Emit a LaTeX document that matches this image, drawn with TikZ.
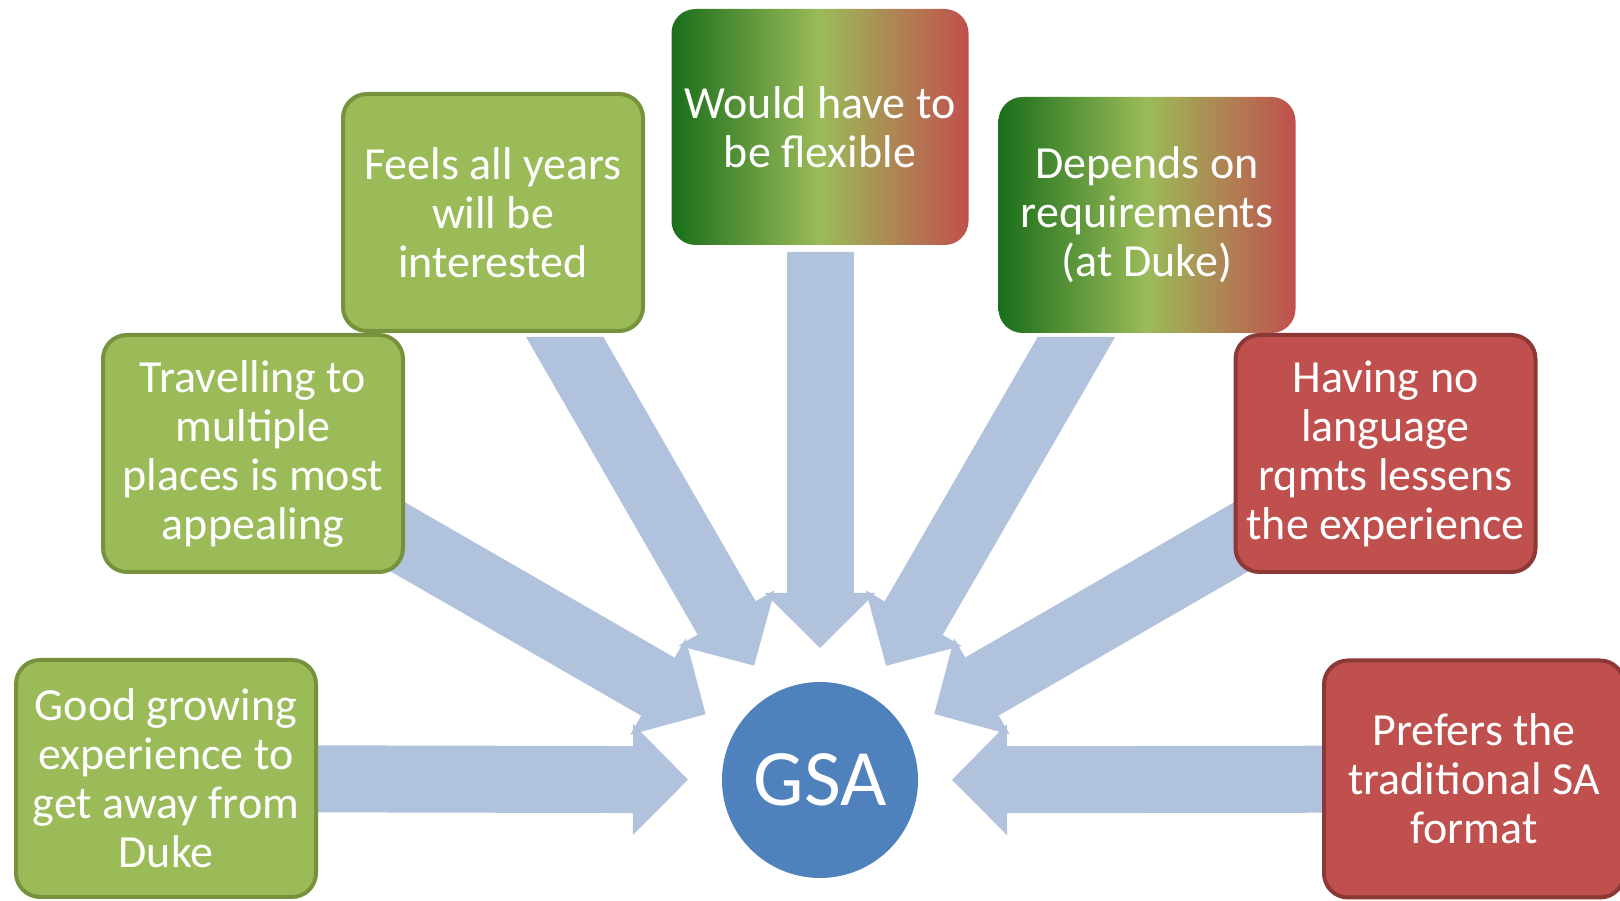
\documentclass[tikz,border=0pt]{standalone}
\usepackage{fontspec}
\usetikzlibrary{arrows.meta, backgrounds}
\newfontfamily\boxfont{Carlito}
\definecolor{profill}{HTML}{9BBB59}
\definecolor{proline}{HTML}{76923C}
\definecolor{confill}{HTML}{C0504D}
\definecolor{conline}{HTML}{8C3836}
\definecolor{mixleft}{HTML}{1A6E1A}
\definecolor{gsafill}{HTML}{4F81BD}
\definecolor{flowblue}{HTML}{B1C2DD}

\begin{document}
\begin{tikzpicture}[x=1pt, y=1pt,
	box/.style={rounded corners=24pt, minimum width=300pt, minimum height=237pt, inner sep=0pt,
		align=center, text=white, font={\boxfont\fontsize{46}{49}\selectfont}, line width=4pt},
	pro/.style={box, fill=profill, draw=proline},
	con/.style={box, fill=confill, draw=conline},
	mixed/.style={box, minimum width=297pt, minimum height=236pt,
		left color=mixleft, right color=confill, middle color=profill},
	flow/.style={line width=67pt, draw=flowblue, shorten >=132pt,
		-{Triangle[length=55pt, width=111pt, line width=0pt, fill=flowblue]}}]
		\useasboundingbox (0,0) rectangle (1620,901);
		
		%centre
		\node (gsa) at (820,121) [circle, fill=gsafill, minimum size=196pt, inner sep=0pt,
			text=white, font={\boxfont\fontsize{80}{96}\selectfont}]{GSA};
		
		%opinions, left = for, right = against
		\node (good) at (166,122.5) [pro]{Good growing\\experience to\\get away from\\Duke};
		\node (feels) at (493,688.5) [pro]{Feels all years\\will be\\interested};
		\node (travel) at (253,447.5) [pro]{Travelling to\\multiple\\places is most\\appealing};
		\node (would) at (820,774) [mixed]{Would have to\\be flexible};
		\node (depends) at (1147,686) [mixed]{Depends on\\requirements\\(at Duke)};
		\node (having) at (1385.5,447.5) [con]{Having no\\language\\rqmts lessens\\the experience};
		\node (prefers) at (1474,122) [con]{Prefers the\\traditional SA\\format};
		
		\begin{pgfonlayer}{background}
			\clip (0,0) rectangle (1620,564) (760,564) rectangle (880,649);
			\foreach \b in {good, travel, feels, would, depends, having, prefers}{
				\draw[flow] (\b.center) -- (gsa.center);
			}
		\end{pgfonlayer}
\end{tikzpicture}
\end{document}
